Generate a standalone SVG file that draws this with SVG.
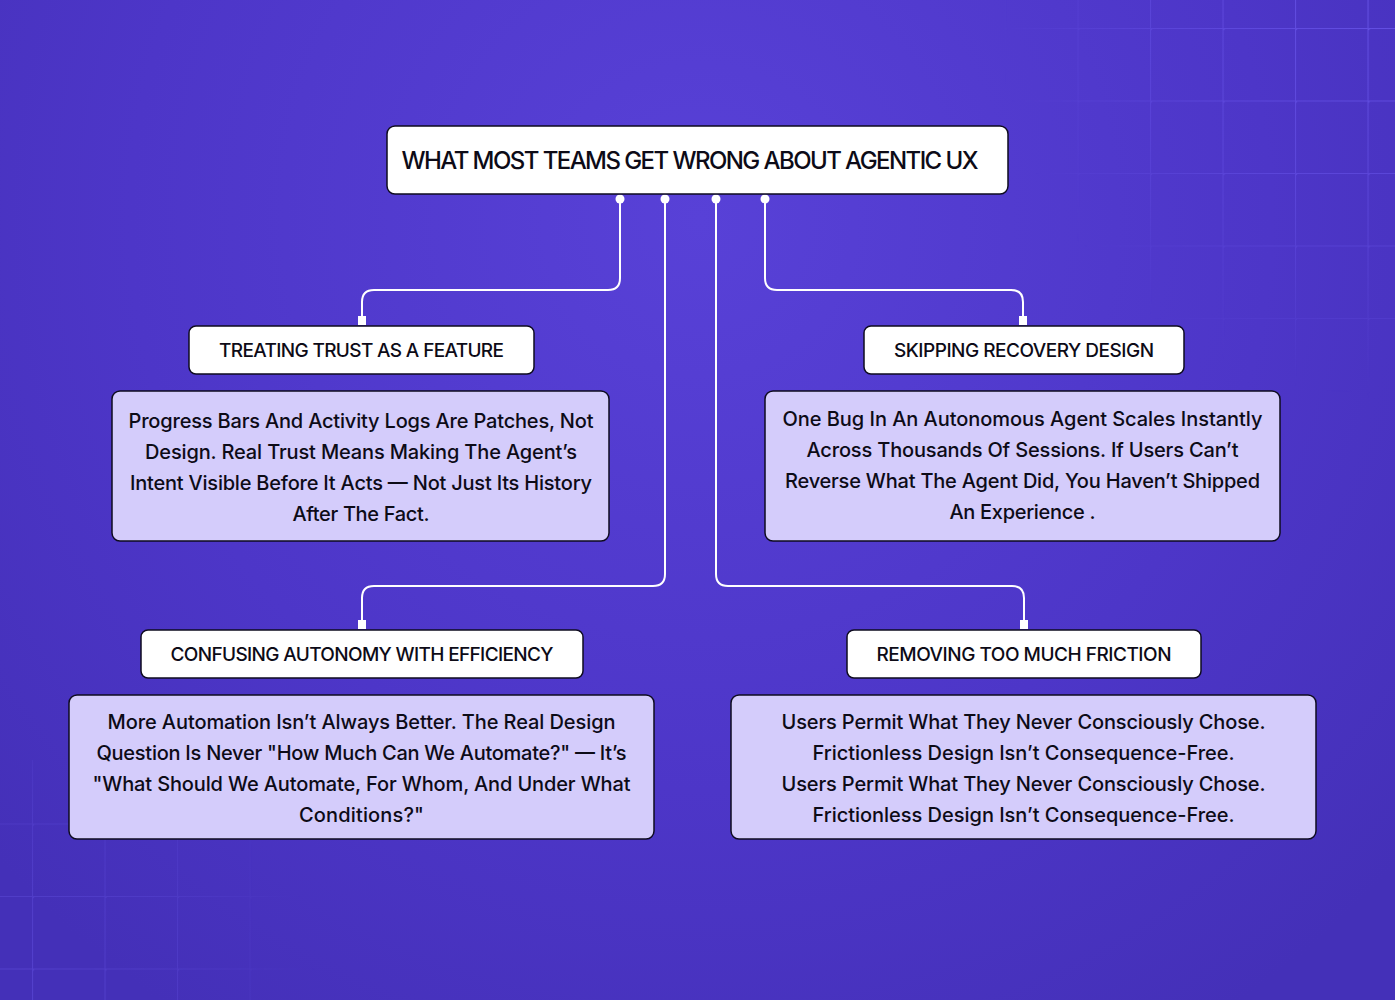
<svg xmlns="http://www.w3.org/2000/svg" width="1395" height="1000" viewBox="0 0 1395 1000">
<defs>
<radialGradient id="bg" cx="700" cy="220" r="950" gradientUnits="userSpaceOnUse">
<stop offset="0" stop-color="#5841d7"/>
<stop offset="0.6" stop-color="#4d36c8"/>
<stop offset="1" stop-color="#4430b8"/>
</radialGradient>
<pattern id="gridTR" x="1150" y="28" width="72.5" height="72.5" patternUnits="userSpaceOnUse">
<path d="M0.5 0 V72.5 M0 0.5 H72.5" stroke="#7a68ff" stroke-width="1.2" fill="none"/>
<circle cx="0.5" cy="0.5" r="2" fill="#7a68ff"/>
</pattern>
<pattern id="gridBL" x="32" y="896" width="72.5" height="72.5" patternUnits="userSpaceOnUse">
<path d="M0.5 0 V72.5 M0 0.5 H72.5" stroke="#6f5ef0" stroke-width="1.2" fill="none"/>
<circle cx="0.5" cy="0.5" r="2" fill="#6f5ef0"/>
</pattern>
<radialGradient id="fadeTR" cx="1395" cy="0" r="400" gradientUnits="userSpaceOnUse">
<stop offset="0" stop-color="#fff" stop-opacity="0.55"/>
<stop offset="0.55" stop-color="#fff" stop-opacity="0.3"/>
<stop offset="1" stop-color="#fff" stop-opacity="0"/>
</radialGradient>
<radialGradient id="fadeBL" cx="0" cy="1000" r="320" gradientUnits="userSpaceOnUse">
<stop offset="0" stop-color="#fff" stop-opacity="0.4"/>
<stop offset="0.6" stop-color="#fff" stop-opacity="0.2"/>
<stop offset="1" stop-color="#fff" stop-opacity="0"/>
</radialGradient>
<mask id="mTR"><rect x="0" y="0" width="1395" height="1000" fill="url(#fadeTR)"/></mask>
<mask id="mBL"><rect x="0" y="0" width="1395" height="1000" fill="url(#fadeBL)"/></mask>
<style>
.hdr{fill:#ffffff;stroke:#0e0b1f;stroke-width:1.5}
.det{fill:#d4ccfb;stroke:#0e0b1f;stroke-width:1.5}
.t{font-family:Inter,"Noto Sans","Liberation Sans",sans-serif;fill:#0d0b17;text-anchor:middle;font-weight:500}
.title{font-size:24px}
.h{font-size:19px}
.b{font-size:20px}
.con{fill:none;stroke:#ffffff;stroke-width:2}
.dot{fill:#ffffff}
</style>
</defs>
<rect width="1395" height="1000" fill="url(#bg)"/>
<rect x="1000" y="0" width="395" height="420" fill="url(#gridTR)" mask="url(#mTR)"/>
<rect x="0" y="760" width="360" height="240" fill="url(#gridBL)" mask="url(#mBL)"/>

<g id="connectors">
<path class="con" d="M620 199 V278 Q620 290 608 290 H374 Q362 290 362 302 V320"/>
<path class="con" d="M765 199 V278 Q765 290 777 290 H1011 Q1023 290 1023 302 V320"/>
<path class="con" d="M665 199 V574 Q665 586 653 586 H374 Q362 586 362 598 V624"/>
<path class="con" d="M716 199 V574 Q716 586 728 586 H1012 Q1024 586 1024 598 V624"/>
<circle class="dot" cx="620" cy="199" r="4.5"/>
<circle class="dot" cx="665" cy="199" r="4.5"/>
<circle class="dot" cx="716" cy="199" r="4.5"/>
<circle class="dot" cx="765" cy="199" r="4.5"/>
<rect class="dot" x="358" y="316" width="8" height="9"/>
<rect class="dot" x="1019" y="316" width="8" height="9"/>
<rect class="dot" x="358" y="620" width="8" height="9"/>
<rect class="dot" x="1020" y="620" width="8" height="9"/>
</g>

<g id="title">
<rect class="hdr" x="387" y="126" width="621" height="68" rx="8"/>
<text class="t title" x="690" y="169" textLength="577" lengthAdjust="spacing">WHAT MOST TEAMS GET WRONG ABOUT AGENTIC UX</text>
</g>

<g id="trust">
<rect class="hdr" x="189" y="326" width="345" height="48" rx="7"/>
<text class="t h" x="361.5" y="357" textLength="285" lengthAdjust="spacing">TREATING TRUST AS A FEATURE</text>
</g>
<g id="trust-detail">
<rect class="det" x="112" y="391" width="497" height="150" rx="8"/>
<text class="t b" x="361" y="428" textLength="465" lengthAdjust="spacing">Progress Bars And Activity Logs Are Patches, Not</text>
<text class="t b" x="361" y="459" textLength="432" lengthAdjust="spacing">Design. Real Trust Means Making The Agent’s</text>
<text class="t b" x="361" y="490" textLength="462" lengthAdjust="spacing">Intent Visible Before It Acts — Not Just Its History</text>
<text class="t b" x="361" y="521" textLength="137" lengthAdjust="spacing">After The Fact.</text>
</g>

<g id="recovery">
<rect class="hdr" x="864" y="326" width="320" height="48" rx="7"/>
<text class="t h" x="1024" y="357" textLength="260" lengthAdjust="spacing">SKIPPING RECOVERY DESIGN</text>
</g>
<g id="recovery-detail">
<rect class="det" x="765" y="391" width="515" height="150" rx="8"/>
<text class="t b" x="1022.5" y="426" textLength="480" lengthAdjust="spacing">One Bug In An Autonomous Agent Scales Instantly</text>
<text class="t b" x="1022.5" y="457" textLength="432" lengthAdjust="spacing">Across Thousands Of Sessions. If Users Can’t</text>
<text class="t b" x="1022.5" y="488" textLength="475" lengthAdjust="spacing">Reverse What The Agent Did, You Haven’t Shipped</text>
<text class="t b" x="1022.5" y="519" textLength="146" lengthAdjust="spacing">An Experience .</text>
</g>

<g id="autonomy">
<rect class="hdr" x="141" y="630" width="442" height="48" rx="7"/>
<text class="t h" x="362" y="661" textLength="383" lengthAdjust="spacing">CONFUSING AUTONOMY WITH EFFICIENCY</text>
</g>
<g id="autonomy-detail">
<rect class="det" x="69" y="695" width="585" height="144" rx="8"/>
<text class="t b" x="361.5" y="729" textLength="508" lengthAdjust="spacing">More Automation Isn’t Always Better. The Real Design</text>
<text class="t b" x="361.5" y="760" textLength="530" lengthAdjust="spacing">Question Is Never "How Much Can We Automate?" — It’s</text>
<text class="t b" x="361.5" y="791" textLength="538" lengthAdjust="spacing">"What Should We Automate, For Whom, And Under What</text>
<text class="t b" x="361.5" y="822" textLength="125" lengthAdjust="spacing">Conditions?"</text>
</g>

<g id="friction">
<rect class="hdr" x="847" y="630" width="354" height="48" rx="7"/>
<text class="t h" x="1024" y="661" textLength="295" lengthAdjust="spacing">REMOVING TOO MUCH FRICTION</text>
</g>
<g id="friction-detail">
<rect class="det" x="731" y="695" width="585" height="144" rx="8"/>
<text class="t b" x="1023.5" y="729" textLength="484" lengthAdjust="spacing">Users Permit What They Never Consciously Chose.</text>
<text class="t b" x="1023.5" y="760" textLength="422" lengthAdjust="spacing">Frictionless Design Isn’t Consequence-Free.</text>
<text class="t b" x="1023.5" y="791" textLength="484" lengthAdjust="spacing">Users Permit What They Never Consciously Chose.</text>
<text class="t b" x="1023.5" y="822" textLength="422" lengthAdjust="spacing">Frictionless Design Isn’t Consequence-Free.</text>
</g>
</svg>
